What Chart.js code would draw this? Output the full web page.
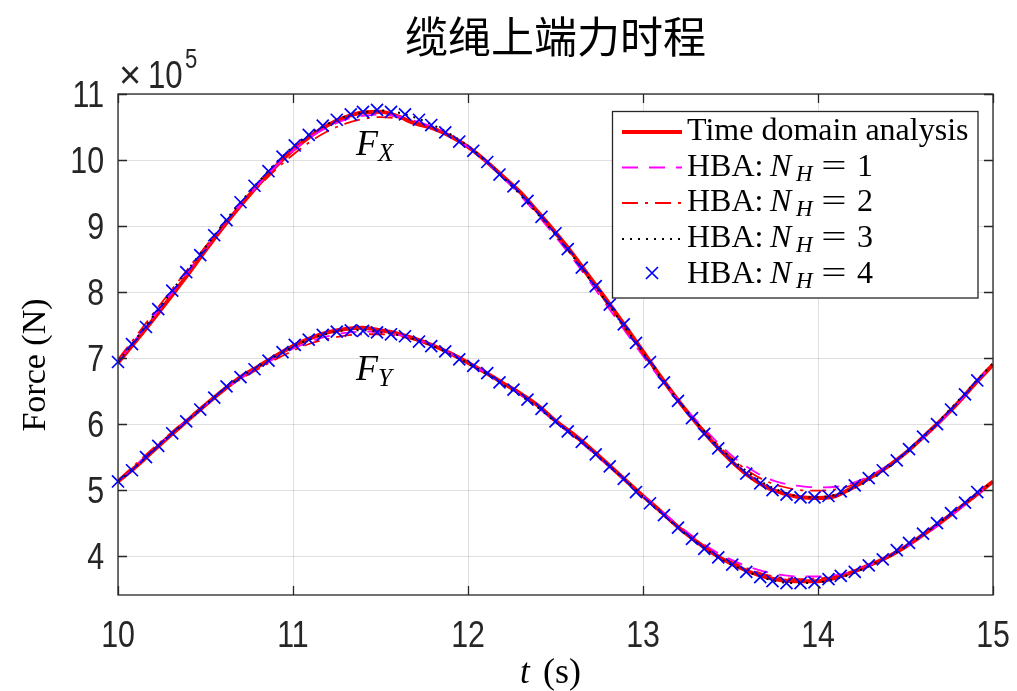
<!DOCTYPE html>
<html>
<head>
<meta charset="utf-8">
<style>
  html, body { margin: 0; padding: 0; background: #fff; }
  #wrap { width: 1017px; height: 691px; }
</style>
</head>
<body>
<div id="wrap"><canvas id="forceChart" width="1017" height="691"></canvas></div>
<script src="https://cdn.jsdelivr.net/npm/chart.js"></script>
<script>
  // force values are in units of 1e5 N
  const lineTimes = [10.0, 10.1, 10.2, 10.3, 10.4, 10.5, 10.6, 10.7, 10.8, 10.9,
    11.0, 11.1, 11.2, 11.3, 11.4, 11.5, 11.6, 11.7, 11.8, 11.9,
    12.0, 12.1, 12.2, 12.3, 12.4, 12.5, 12.6, 12.7, 12.8, 12.9,
    13.0, 13.1, 13.2, 13.3, 13.4, 13.5, 13.6, 13.7, 13.8, 13.9,
    14.0, 14.1, 14.2, 14.3, 14.4, 14.5, 14.6, 14.7, 14.8, 14.9, 15.0];

  const timeDomainFx = [6.93, 7.25, 7.58, 7.92, 8.27, 8.63, 8.98, 9.31, 9.62, 9.90,
    10.15, 10.36, 10.53, 10.65, 10.72, 10.73, 10.66, 10.55, 10.48, 10.36,
    10.20, 9.99, 9.75, 9.51, 9.21, 8.90, 8.57, 8.21, 7.85, 7.48,
    7.10, 6.72, 6.36, 6.03, 5.72, 5.45, 5.22, 5.05, 4.95, 4.89,
    4.88, 4.91, 5.04, 5.19, 5.36, 5.56, 5.80, 6.05, 6.32, 6.62, 6.90];
  const timeDomainFy = [5.13, 5.35, 5.59, 5.83, 6.06, 6.29, 6.51, 6.71, 6.87, 7.03,
    7.18, 7.30, 7.39, 7.44, 7.46, 7.42, 7.37, 7.29, 7.19, 7.07,
    6.93, 6.78, 6.62, 6.46, 6.28, 6.05, 5.85, 5.63, 5.39, 5.15,
    4.91, 4.68, 4.44, 4.23, 4.04, 3.89, 3.77, 3.68, 3.63, 3.62,
    3.62, 3.67, 3.76, 3.87, 3.99, 4.14, 4.32, 4.51, 4.71, 4.92, 5.13];

  const hba1Fx = [6.95, 7.28, 7.62, 7.96, 8.31, 8.66, 9.00, 9.32, 9.62, 9.90,
    10.14, 10.35, 10.50, 10.61, 10.67, 10.69, 10.66, 10.59, 10.50, 10.37,
    10.20, 9.98, 9.73, 9.46, 9.16, 8.84, 8.50, 8.14, 7.77, 7.40,
    7.03, 6.68, 6.36, 6.07, 5.79, 5.54, 5.34, 5.19, 5.10, 5.06,
    5.04, 5.05, 5.11, 5.22, 5.37, 5.56, 5.79, 6.04, 6.32, 6.62, 6.91];
  const hba1Fy = [5.14, 5.37, 5.61, 5.84, 6.07, 6.29, 6.50, 6.69, 6.85, 7.00,
    7.14, 7.25, 7.33, 7.38, 7.40, 7.39, 7.35, 7.28, 7.19, 7.07,
    6.93, 6.78, 6.61, 6.44, 6.25, 6.03, 5.82, 5.60, 5.37, 5.14,
    4.91, 4.69, 4.47, 4.27, 4.09, 3.95, 3.84, 3.76, 3.71, 3.69,
    3.69, 3.71, 3.77, 3.87, 3.99, 4.13, 4.30, 4.49, 4.69, 4.91, 5.13];

  const hba2Fx = [6.98, 7.32, 7.67, 8.01, 8.35, 8.69, 9.01, 9.31, 9.59, 9.85,
    10.08, 10.28, 10.44, 10.55, 10.62, 10.65, 10.63, 10.57, 10.49, 10.37,
    10.21, 10.00, 9.76, 9.49, 9.19, 8.87, 8.53, 8.17, 7.80, 7.43,
    7.06, 6.70, 6.36, 6.05, 5.76, 5.50, 5.29, 5.14, 5.05, 5.00,
    4.99, 5.01, 5.08, 5.20, 5.36, 5.56, 5.80, 6.06, 6.34, 6.63, 6.92];
  const hba2Fy = [5.15, 5.39, 5.63, 5.86, 6.09, 6.30, 6.50, 6.68, 6.83, 6.98,
    7.11, 7.22, 7.29, 7.34, 7.36, 7.36, 7.33, 7.27, 7.18, 7.07,
    6.93, 6.78, 6.62, 6.45, 6.26, 6.04, 5.83, 5.61, 5.38, 5.14,
    4.90, 4.67, 4.45, 4.25, 4.06, 3.92, 3.81, 3.72, 3.67, 3.65,
    3.66, 3.69, 3.76, 3.86, 3.98, 4.13, 4.31, 4.50, 4.70, 4.91, 5.13];

  const hba3Fx = [6.94, 7.28, 7.63, 7.99, 8.34, 8.68, 9.03, 9.36, 9.66, 9.95,
    10.20, 10.40, 10.55, 10.66, 10.72, 10.75, 10.72, 10.64, 10.53, 10.39,
    10.21, 9.99, 9.74, 9.47, 9.18, 8.87, 8.54, 8.18, 7.82, 7.45,
    7.08, 6.71, 6.36, 6.04, 5.75, 5.49, 5.27, 5.09, 4.97, 4.90,
    4.89, 4.93, 5.02, 5.16, 5.34, 5.56, 5.80, 6.07, 6.35, 6.64, 6.92];
  const hba3Fy = [5.13, 5.35, 5.60, 5.84, 6.06, 6.29, 6.52, 6.71, 6.87, 7.03,
    7.17, 7.29, 7.37, 7.42, 7.42, 7.39, 7.35, 7.28, 7.18, 7.06,
    6.92, 6.77, 6.60, 6.43, 6.25, 6.03, 5.83, 5.61, 5.38, 5.15,
    4.90, 4.66, 4.43, 4.22, 4.03, 3.88, 3.76, 3.66, 3.60, 3.59,
    3.60, 3.65, 3.74, 3.86, 3.99, 4.14, 4.32, 4.52, 4.72, 4.93, 5.13];

  const markerTimes = [10.00, 10.08, 10.16, 10.23, 10.31, 10.39, 10.47, 10.55, 10.62, 10.70,
    10.78, 10.86, 10.94, 11.01, 11.09, 11.17, 11.25, 11.33, 11.40, 11.48,
    11.56, 11.64, 11.72, 11.79, 11.87, 11.95, 12.03, 12.11, 12.18, 12.26,
    12.34, 12.42, 12.50, 12.57, 12.65, 12.73, 12.81, 12.89, 12.96, 13.04,
    13.12, 13.20, 13.28, 13.35, 13.43, 13.51, 13.59, 13.67, 13.74, 13.82,
    13.90, 13.98, 14.06, 14.13, 14.21, 14.29, 14.37, 14.45, 14.52, 14.60,
    14.68, 14.76, 14.84, 14.91];
  const hba4Fx = [6.94, 7.21, 7.47, 7.74, 8.02, 8.30, 8.56, 8.86, 9.09, 9.36,
    9.61, 9.83, 10.05, 10.22, 10.38, 10.52, 10.61, 10.69, 10.73, 10.76,
    10.73, 10.69, 10.61, 10.53, 10.42, 10.28, 10.14, 9.97, 9.78, 9.60,
    9.38, 9.14, 8.89, 8.65, 8.37, 8.09, 7.81, 7.51, 7.23, 6.94,
    6.63, 6.35, 6.09, 5.85, 5.63, 5.43, 5.25, 5.10, 5.00, 4.93,
    4.89, 4.89, 4.91, 4.98, 5.07, 5.18, 5.30, 5.45, 5.62, 5.81,
    6.00, 6.22, 6.45, 6.66];
  const hba4Fy = [5.13, 5.30, 5.50, 5.67, 5.86, 6.04, 6.22, 6.40, 6.57, 6.71,
    6.83, 6.96, 7.09, 7.20, 7.28, 7.35, 7.40, 7.42, 7.41, 7.39,
    7.36, 7.33, 7.25, 7.18, 7.10, 6.98, 6.88, 6.77, 6.63, 6.52,
    6.37, 6.23, 6.04, 5.89, 5.73, 5.54, 5.36, 5.17, 4.97, 4.80,
    4.62, 4.43, 4.26, 4.11, 3.98, 3.87, 3.76, 3.68, 3.62, 3.59,
    3.59, 3.60, 3.65, 3.70, 3.76, 3.86, 3.95, 4.09, 4.20, 4.34,
    4.50, 4.65, 4.81, 4.97];

  const xTicks = [10, 11, 12, 13, 14, 15];
  const yTicks = [4, 5, 6, 7, 8, 9, 10, 11];
  const legendLabels = ['Time domain analysis', '1', '2', '3', '4'];

  const axisInk = '#262626';
  const tickFont = "'Liberation Sans', Arial, sans-serif";
  const serif = "'Liberation Serif', 'Times New Roman', serif";
  const narrow = 0.82;

  function pts(times, vals) {
    return times.map((t, i) => ({ x: t, y: vals[i] }));
  }

  const styles = [
    { color: '#ff0000', width: 4, dash: [] },
    { color: '#ff00ff', width: 1.8, dash: [16, 11] },
    { color: '#ff0000', width: 1.8, dash: [16, 7, 3, 7] },
    { color: '#000000', width: 2, dash: [2, 6] },
    { color: '#0000ff', width: 1.7, dash: [], marker: true }
  ];

  function lineSet(vals, s, order) {
    return {
      data: pts(lineTimes, vals),
      borderColor: s.color,
      backgroundColor: s.color,
      borderWidth: s.width,
      borderDash: s.dash,
      pointRadius: 0,
      cubicInterpolationMode: 'monotone',
      fill: false,
      order: order
    };
  }

  function markerSet(vals) {
    return {
      data: pts(markerTimes, vals),
      showLine: false,
      pointStyle: 'crossRot',
      pointRadius: 8.5,
      pointBorderWidth: 1.7,
      borderColor: styles[4].color,
      backgroundColor: styles[4].color,
      clip: 12,
      order: 1
    };
  }

  const datasets = [
    lineSet(timeDomainFx, styles[0], 5), lineSet(timeDomainFy, styles[0], 5),
    lineSet(hba1Fx, styles[1], 4), lineSet(hba1Fy, styles[1], 4),
    lineSet(hba2Fx, styles[2], 3), lineSet(hba2Fy, styles[2], 3),
    lineSet(hba3Fx, styles[3], 2), lineSet(hba3Fy, styles[3], 2),
    markerSet(hba4Fx), markerSet(hba4Fy)
  ];

  // narrow sans text, like the MATLAB tick labels
  function narrowText(ctx, txt, x, y, align, size) {
    ctx.save();
    ctx.font = size + 'px ' + tickFont;
    const w = ctx.measureText(txt).width * narrow;
    let left = x;
    if (align === 'center') left = x - w / 2;
    if (align === 'right') left = x - w;
    ctx.translate(left, y);
    ctx.scale(narrow, 1);
    ctx.textAlign = 'left';
    ctx.fillText(txt, 0, 0);
    ctx.restore();
    return w;
  }

  const matlabDecor = {
    id: 'matlabDecor',
    afterDraw(chart) {
      const ctx = chart.ctx;
      const a = chart.chartArea;
      const xs = chart.scales.x, ys = chart.scales.y;
      ctx.save();

      // box and inward ticks
      ctx.strokeStyle = axisInk;
      ctx.lineWidth = 1.3;
      ctx.strokeRect(a.left, a.top, a.right - a.left, a.bottom - a.top);
      ctx.beginPath();
      xTicks.forEach(v => {
        const px = Math.round(xs.getPixelForValue(v)) + 0.5;
        ctx.moveTo(px, a.bottom); ctx.lineTo(px, a.bottom - 9);
        ctx.moveTo(px, a.top); ctx.lineTo(px, a.top + 9);
      });
      yTicks.forEach(v => {
        const py = Math.round(ys.getPixelForValue(v)) + 0.5;
        ctx.moveTo(a.left, py); ctx.lineTo(a.left + 9, py);
        ctx.moveTo(a.right, py); ctx.lineTo(a.right - 9, py);
      });
      ctx.stroke();

      // tick labels
      ctx.fillStyle = axisInk;
      ctx.textBaseline = 'alphabetic';
      xTicks.forEach(v => narrowText(ctx, String(v), xs.getPixelForValue(v), 647, 'center', 37));
      yTicks.forEach(v => narrowText(ctx, String(v), 104, ys.getPixelForValue(v) + 13, 'right', 37));

      // exponent
      ctx.font = '38px ' + tickFont;
      ctx.textAlign = 'left';
      ctx.fillText('\u00d7', a.left + 1, 88);
      narrowText(ctx, '10', a.left + 30, 88, 'left', 38);
      narrowText(ctx, '5', a.left + 67, 68, 'left', 27);

      // title
      ctx.fillStyle = '#000';
      ctx.textAlign = 'center';
      ctx.textBaseline = 'middle';
      ctx.font = "43px 'Noto Sans CJK SC', sans-serif";
      ctx.fillText('缆绳上端力时程', (a.left + a.right) / 2, 37);

      // axis titles
      ctx.textAlign = 'left';
      ctx.textBaseline = 'alphabetic';
      ctx.font = 'italic 35px ' + serif;
      ctx.fillText('t', 520, 683);
      ctx.font = '36px ' + serif;
      ctx.fillText('(s)', 543, 683);

      ctx.save();
      ctx.translate(45, 365);
      ctx.rotate(-Math.PI / 2);
      ctx.textAlign = 'center';
      ctx.font = '34px ' + serif;
      ctx.fillText('Force (N)', 0, 0);
      ctx.restore();

      // curve labels
      function sub(main, s, x, y) {
        ctx.font = 'italic 36px ' + serif;
        ctx.fillText(main, x, y);
        const mw = ctx.measureText(main).width;
        ctx.font = 'italic 25px ' + serif;
        ctx.fillText(s, x + mw, y + 6);
      }
      sub('F', 'X', 356, 155);
      sub('F', 'Y', 356, 380);

      // legend
      const L = { left: 612.5, top: 111.5, right: 978, bottom: 298 };
      ctx.fillStyle = '#fff';
      ctx.fillRect(L.left, L.top, L.right - L.left, L.bottom - L.top);
      ctx.strokeStyle = axisInk;
      ctx.lineWidth = 1.3;
      ctx.strokeRect(L.left, L.top, L.right - L.left, L.bottom - L.top);
      const baselines = [140, 175.5, 211, 247, 283];
      legendLabels.forEach((lab, i) => {
        const s = styles[i];
        const yb = baselines[i];
        const yl = yb - 8;
        ctx.strokeStyle = s.color;
        ctx.lineWidth = s.width;
        if (s.marker) {
          const r = 6;
          ctx.beginPath();
          ctx.moveTo(652 - r, yl - 2 - r); ctx.lineTo(652 + r, yl - 2 + r);
          ctx.moveTo(652 - r, yl - 2 + r); ctx.lineTo(652 + r, yl - 2 - r);
          ctx.stroke();
        } else {
          ctx.setLineDash(s.dash);
          ctx.beginPath();
          ctx.moveTo(622, yl); ctx.lineTo(682, yl);
          ctx.stroke();
          ctx.setLineDash([]);
        }
        ctx.fillStyle = '#000';
        ctx.textAlign = 'left';
        const tx = 687;
        ctx.font = '32px ' + serif;
        if (i === 0) {
          ctx.fillText(lab, tx, yb);
        } else {
          ctx.fillText('HBA:', tx, yb);
          ctx.font = 'italic 32px ' + serif;
          ctx.fillText('N', tx + 83, yb);
          ctx.font = 'italic 23px ' + serif;
          ctx.fillText('H', tx + 109, yb + 5);
          ctx.font = '32px ' + serif;
          ctx.textAlign = 'center';
          ctx.save();
          ctx.translate(tx + 147, yb);
          ctx.scale(1.4, 1);
          ctx.fillText('=', 0, 0);
          ctx.restore();
          ctx.textAlign = 'left';
          ctx.fillText(lab, tx + 170, yb);
        }
      });
      ctx.restore();
    }
  };

  new Chart(document.getElementById('forceChart'), {
    type: 'line',
    data: { datasets: datasets },
    plugins: [matlabDecor],
    options: {
      responsive: false,
      animation: false,
      devicePixelRatio: 1,
      layout: { padding: { top: 94, right: 24, left: 0, bottom: 0 } },
      plugins: { legend: { display: false }, tooltip: { enabled: false }, title: { display: false } },
      scales: {
        x: {
          type: 'linear',
          min: xTicks[0],
          max: xTicks[xTicks.length - 1],
          afterFit(scale) {
            scale.height = 96;
            scale.paddingLeft = 0; scale.paddingRight = 0;
          },
          afterBuildTicks(scale) { scale.ticks = xTicks.map(v => ({ value: v })); },
          ticks: { display: false },
          grid: { color: 'rgba(38,38,38,0.15)', lineWidth: 1, drawTicks: false },
          border: { display: false }
        },
        y: {
          type: 'linear',
          min: 3.41,
          max: 11,
          afterFit(scale) {
            scale.width = 118;
            scale.paddingTop = 0; scale.paddingBottom = 0;
          },
          afterBuildTicks(scale) { scale.ticks = yTicks.map(v => ({ value: v })); },
          ticks: { display: false },
          grid: { color: 'rgba(38,38,38,0.15)', lineWidth: 1, drawTicks: false },
          border: { display: false }
        }
      }
    }
  });
</script>
</body>
</html>
